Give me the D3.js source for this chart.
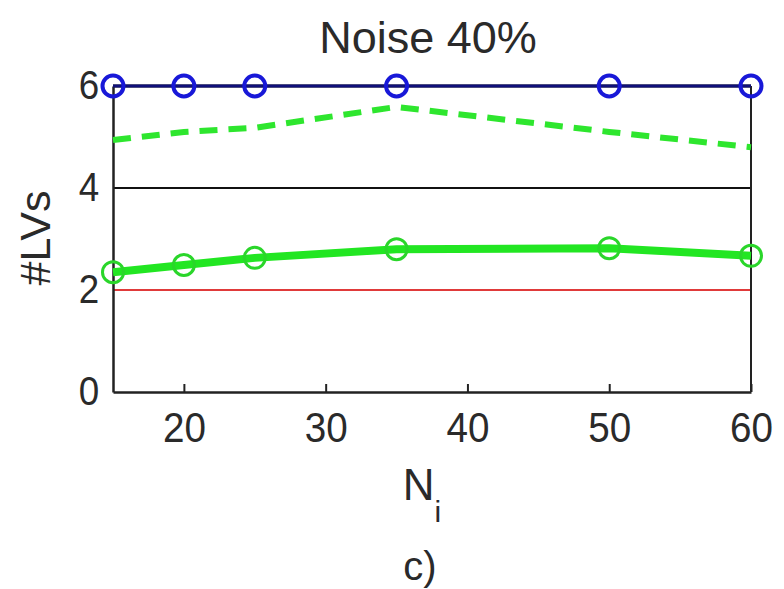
<!DOCTYPE html>
<html>
<head>
<meta charset="utf-8">
<title>Noise 40%</title>
<script src="https://cdn.jsdelivr.net/npm/d3@7"></script>
<style>
  body { margin: 0; background: #fff; }
  text { font-family: "Liberation Sans", Arial, sans-serif; fill: #2a2a2a; }
</style>
</head>
<body>
<div id="chart"></div>
<script>
// values
var ni = [15, 20, 25, 35, 50, 60]
var blueLVs = [6, 6, 6, 6, 6, 6]
var greenSolid = [2.35, 2.49, 2.63, 2.8, 2.82, 2.67]
var greenDashed = [4.94, 5.1, 5.18, 5.59, 5.1, 4.8]
var refLines = [6, 4, 2]
var xTicks = [20, 30, 40, 50, 60]
var yTicks = [0, 2, 4, 6]

var W = 784, H = 589
var margin = {top: 86, right: 33, bottom: 197, left: 113}

var svg = d3.select("#chart").append("svg")
  .attr("width", W).attr("height", H)

var x = d3.scaleLinear().domain([15, 60]).range([margin.left, W - margin.right])
var y = d3.scaleLinear().domain([0, 6]).range([H - margin.bottom, margin.top])

// horizontal reference lines
var refColor = {6: "#111", 4: "#111", 2: "#e03a3a"}
svg.selectAll("line.ref").data(refLines).enter().append("line")
  .attr("class", "ref")
  .attr("x1", x(15)).attr("x2", x(60))
  .attr("y1", function(d) { return y(d) }).attr("y2", function(d) { return y(d) })
  .attr("stroke", function(d) { return refColor[d] })
  .attr("stroke-width", function(d) { return d == 6 ? 3 : 2 })

// axes box
var xAxis = svg.append("g")
  .attr("transform", "translate(0," + y(0) + ")")
  .call(d3.axisBottom(x).tickValues(xTicks).tickSize(-8).tickSizeOuter(0).tickPadding(20))
xAxis.select(".domain").attr("stroke", "#222").attr("stroke-width", 2.5)
xAxis.selectAll(".tick line").attr("stroke", "#222").attr("stroke-width", 2)
xAxis.selectAll("text").attr("font-size", 42).attr("fill", "#2a2a2a")
  .attr("transform", "scale(0.92,1)")

var yAxis = svg.append("g")
  .attr("transform", "translate(" + x(15) + ",0)")
  .call(d3.axisLeft(y).tickValues(yTicks).tickFormat(d3.format("d")).tickSize(0).tickPadding(15))
yAxis.select(".domain").attr("stroke", "#222").attr("stroke-width", 2.5)
yAxis.selectAll("text").attr("font-size", 40).attr("fill", "#2a2a2a")
  .attr("transform", "scale(0.92,1)")

svg.append("line")
  .attr("x1", x(60)).attr("x2", x(60))
  .attr("y1", y(0)).attr("y2", y(6))
  .attr("stroke", "#222").attr("stroke-width", 2)

var line = d3.line()
  .x(function(d) { return x(d[0]) })
  .y(function(d) { return y(d[1]) })

// green dashed
svg.append("path")
  .datum(d3.zip(ni, greenDashed))
  .attr("d", line)
  .attr("fill", "none")
  .attr("stroke", "#2ee62e")
  .attr("stroke-width", 6)
  .attr("stroke-dasharray", "18,11")

// green solid with circles
svg.append("path")
  .datum(d3.zip(ni, greenSolid))
  .attr("d", line)
  .attr("fill", "none")
  .attr("stroke", "#22e622")
  .attr("stroke-width", 8)
svg.selectAll("circle.g").data(d3.zip(ni, greenSolid)).enter().append("circle")
  .attr("class", "g")
  .attr("cx", function(d) { return x(d[0]) })
  .attr("cy", function(d) { return y(d[1]) })
  .attr("r", 10.5)
  .attr("fill", "none")
  .attr("stroke", "#2ad62a")
  .attr("stroke-width", 3)

// blue with circles
svg.append("path")
  .datum(d3.zip(ni, blueLVs))
  .attr("d", line)
  .attr("fill", "none")
  .attr("stroke", "#10107a")
  .attr("stroke-width", 3)
svg.selectAll("circle.b").data(d3.zip(ni, blueLVs)).enter().append("circle")
  .attr("class", "b")
  .attr("cx", function(d) { return x(d[0]) })
  .attr("cy", function(d) { return y(d[1]) })
  .attr("r", 10.5)
  .attr("fill", "none")
  .attr("stroke", "#1818d8")
  .attr("stroke-width", 4)

// texts
svg.append("text")
  .attr("x", 428).attr("y", 53)
  .attr("text-anchor", "middle")
  .attr("font-size", 45)
  .text("Noise 40%")

svg.append("text")
  .attr("transform", "translate(50," + 238 + ") rotate(-90)")
  .attr("text-anchor", "middle")
  .attr("font-size", 43)
  .text("#LVs")

var xl = svg.append("text")
  .attr("x", 422).attr("y", 500)
  .attr("text-anchor", "middle")
  .attr("font-size", 44)
xl.append("tspan").text("N")
xl.append("tspan").attr("font-size", 30).attr("dy", 22).text("i")

svg.append("text")
  .attr("x", 420).attr("y", 580)
  .attr("text-anchor", "middle")
  .attr("font-size", 40)
  .text("c)")
</script>
</body>
</html>
